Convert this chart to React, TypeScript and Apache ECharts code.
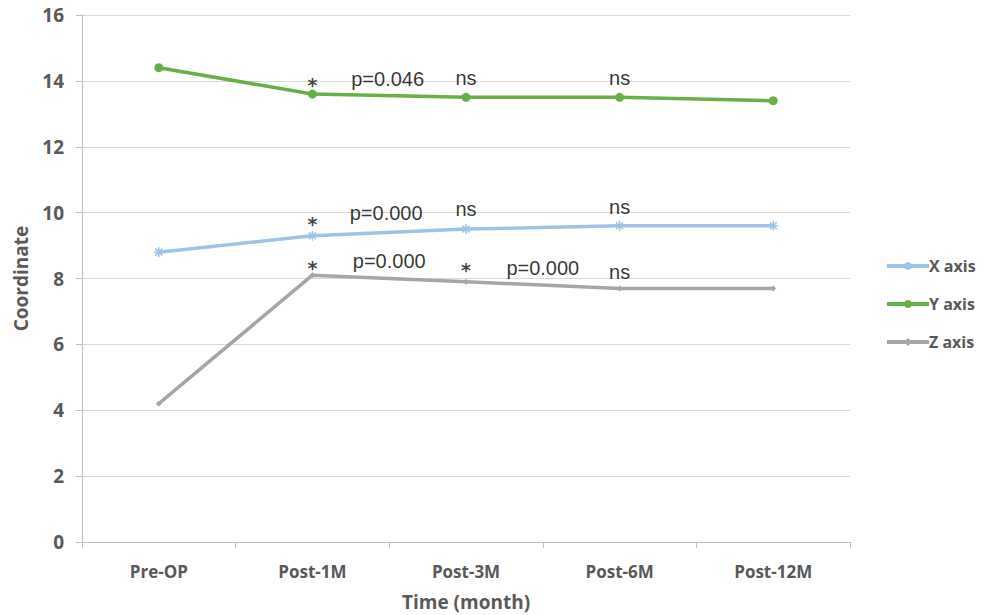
import React, { useEffect, useRef } from "react";
import * as echarts from "echarts";

const categories = ["Pre-OP", "Post-1M", "Post-3M", "Post-6M", "Post-12M"];
const xAxisValues = [8.8, 9.3, 9.5, 9.6, 9.6];
const yAxisValues = [14.4, 13.6, 13.5, 13.5, 13.4];
const zAxisValues = [4.2, 8.1, 7.9, 7.7, 7.7];

// annotations: [category position, value, text]
const annotations: [number, number, string][] = [
  [1, 13.88, "*"],
  [1.49, 14.05, "p=0.046"],
  [2, 14.1, "ns"],
  [3, 14.1, "ns"],
  [1, 9.65, "*"],
  [1.48, 10.0, "p=0.000"],
  [2, 10.1, "ns"],
  [3, 10.18, "ns"],
  [1, 8.31, "*"],
  [1.5, 8.52, "p=0.000"],
  [2, 8.25, "*"],
  [2.5, 8.33, "p=0.000"],
  [3, 8.2, "ns"],
];

const FONT = "'Open Sans', 'Liberation Sans', sans-serif";

export default function App() {
  const ref = useRef<HTMLDivElement>(null);
  useEffect(() => {
    if (!ref.current) return;
    const chart = echarts.init(ref.current, undefined, { renderer: "svg" });
    chart.setOption({
      animation: false,
      backgroundColor: "#ffffff",
      grid: { left: 82, width: 768, top: 15, height: 527, containLabel: false, outerBoundsMode: "none" },
      legend: {
        orient: "vertical",
        left: 880,
        top: 253,
        itemWidth: 42,
        itemHeight: 10,
        itemGap: 22,
        lineStyle: { width: 4 },
        textStyle: { fontFamily: FONT, fontWeight: "bold", fontSize: 16, color: "#595959", padding: [0, 0, 0, -5] },
        data: ["X axis", "Y axis", "Z axis"],
      },
      xAxis: [
        {
          type: "category",
          data: categories,
          boundaryGap: true,
          name: "Time (month)",
          nameLocation: "middle",
          nameGap: 50,
          nameTextStyle: { fontFamily: FONT, fontWeight: "bold", fontSize: 19, color: "#595959" },
          axisLine: { lineStyle: { color: "#BFBFBF", width: 1 } },
          axisTick: { show: true, length: 6, lineStyle: { color: "#BFBFBF" } },
          axisLabel: { margin: 21, fontFamily: FONT, fontWeight: "bold", fontSize: 17, color: "#595959" },
        },
        { type: "value", min: -0.5, max: 4.5, show: false },
      ],
      yAxis: {
        type: "value",
        min: 0,
        max: 16,
        interval: 2,
        name: "Coordinate",
        nameLocation: "middle",
        nameGap: 52,
        nameTextStyle: { fontFamily: FONT, fontWeight: "bold", fontSize: 19, color: "#595959" },
        axisLine: { show: true, onZero: false, lineStyle: { color: "#BFBFBF", width: 1 } },
        axisTick: { show: true, length: 6, lineStyle: { color: "#BFBFBF" } },
        axisLabel: { margin: 18, fontFamily: FONT, fontWeight: "bold", fontSize: 19, color: "#595959" },
        splitLine: { lineStyle: { color: "#D9D9D9", width: 1 } },
      },
      series: [
        {
          name: "X axis", type: "line", data: xAxisValues, color: "#9DC3E6",
          lineStyle: { width: 3.5, color: "#9DC3E6" },
          symbol: "path://M0,5L10,5M5,0L5,10M1.5,1.5L8.5,8.5M8.5,1.5L1.5,8.5",
          symbolSize: 10,
          itemStyle: { color: "none", borderColor: "#9DC3E6", borderWidth: 1.5 },
          z: 3,
        },
        {
          name: "Y axis", type: "line", data: yAxisValues, color: "#6AAF45",
          lineStyle: { width: 3.5, color: "#6AAF45" }, symbol: "circle", symbolSize: 9,
          itemStyle: { color: "#6AAF45" }, z: 3,
        },
        {
          name: "Z axis", type: "line", data: zAxisValues, color: "#A6A6A6",
          lineStyle: { width: 3.5, color: "#A6A6A6" }, symbol: "diamond", symbolSize: 6,
          itemStyle: { color: "#A6A6A6" }, z: 3,
        },
        {
          name: "annotations", type: "scatter", xAxisIndex: 1,
          data: annotations.map((a) => [a[0], a[1], a[2]]),
          symbolSize: 0, silent: true, z: 5,
          label: {
            show: true, position: "inside",
            formatter: (p: any) => (p.data[2] === "*" ? "{s|*}" : p.data[2]),
            fontFamily: "'Liberation Sans', sans-serif", fontSize: 20, color: "#000000",
            rich: {
              s: { fontFamily: "'DejaVu Sans', sans-serif", fontWeight: "bold", fontSize: 19, color: "#111111" },
            },
          },
        },
      ],
    });
    return () => chart.dispose();
  }, []);
  return <div ref={ref} style={{ width: 988, height: 615, position: "absolute", left: 0, top: 0 }} />;
}
